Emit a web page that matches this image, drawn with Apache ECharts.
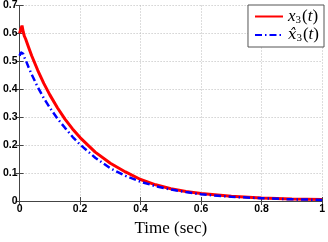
<!DOCTYPE html>
<html><head><meta charset="utf-8">
<script src="https://cdn.jsdelivr.net/npm/echarts@6/dist/echarts.min.js"></script>
<style>html,body{margin:0;padding:0;background:#fff}#c{width:328px;height:242px}</style>
</head><body><div id="c"></div>
<script>
const tValues = [0, 0.004, 0.008, 0.012, 0.016, 0.02, 0.03, 0.04, 0.06, 0.08, 0.1, 0.125, 0.15, 0.175, 0.2, 0.25, 0.3, 0.35, 0.4, 0.45, 0.5, 0.55, 0.6, 0.7, 0.8, 0.9, 1.0];
const x3 = [0.6, 0.615, 0.628, 0.605, 0.59, 0.58, 0.55, 0.52, 0.468, 0.421, 0.38, 0.334, 0.293, 0.258, 0.227, 0.175, 0.135, 0.104, 0.077, 0.058, 0.044, 0.034, 0.027, 0.017, 0.011, 0.007, 0.005];
const x3hat = [0.52, 0.532, 0.534, 0.527, 0.514, 0.505, 0.478, 0.453, 0.408, 0.368, 0.334, 0.295, 0.262, 0.23, 0.202, 0.155, 0.117, 0.09, 0.069, 0.053, 0.041, 0.032, 0.024, 0.015, 0.01, 0.006, 0.004];
const xTicks = [0, 0.2, 0.4, 0.6, 0.8, 1];
const yTicks = [0, 0.1, 0.2, 0.3, 0.4, 0.5, 0.6, 0.7];
const seriesNames = ['x3', 'x3hat'];
const xLabel = 'Time (sec)';

const chart = echarts.init(document.getElementById('c'), null, {renderer: 'canvas'});
const axisCol = '#444';
const lbl = {fontFamily: 'Liberation Sans', fontWeight: 'bold', fontSize: 10.5, color: '#000'};
const zip = (a, b) => a.map((v, i) => [v, b[i]]);
const rich = {
  it: {fontFamily: 'Liberation Serif', fontStyle: 'italic', fontSize: 17, color: '#000'},
  hat: {fontFamily: 'DejaVu Serif', fontStyle: 'italic', fontSize: 15, color: '#000'},
  n: {fontFamily: 'Liberation Serif', fontSize: 17, color: '#000'},
  sub: {fontFamily: 'Liberation Serif', fontSize: 11, color: '#000', padding: [7, 1, 0, 0]}
};
chart.setOption({
  animation: false,
  grid: {left: 16, top: 4, width: 310, height: 207, containLabel: false},
  xAxis: [{
    type: 'value', min: 0, max: 1, interval: 0.2,
    axisLine: {show: true, lineStyle: {color: axisCol, width: 1}},
    axisTick: {show: true, inside: true, length: 4, lineStyle: {color: axisCol}},
    axisLabel: Object.assign({margin: 3, formatter: v => String(+v.toFixed(1))}, lbl),
    splitLine: {show: true, lineStyle: {color: '#bbbbbb', type: [1, 2]}},
    name: xLabel, nameLocation: 'middle', nameGap: 19,
    nameTextStyle: {fontFamily: 'Liberation Serif', fontSize: 17, color: '#000'}
  }, {
    type: 'value', min: 0, max: 1, interval: 0.2, position: 'top',
    axisLine: {show: true, lineStyle: {color: axisCol, width: 1}},
    axisTick: {show: true, inside: true, length: 4, lineStyle: {color: axisCol}},
    axisLabel: {show: false}, splitLine: {show: false}
  }],
  yAxis: [{
    type: 'value', min: 0, max: 0.7, interval: 0.1,
    axisLine: {show: true, lineStyle: {color: axisCol, width: 1}},
    axisTick: {show: true, inside: true, length: 4, lineStyle: {color: axisCol}},
    axisLabel: Object.assign({margin: 2, formatter: v => String(+v.toFixed(1))}, lbl),
    splitLine: {show: true, lineStyle: {color: '#bbbbbb', type: [1, 2]}}
  }, {
    type: 'value', min: 0, max: 0.7, interval: 0.1, position: 'right',
    axisLine: {show: true, lineStyle: {color: axisCol, width: 1}},
    axisTick: {show: true, inside: true, length: 4, lineStyle: {color: axisCol}},
    axisLabel: {show: false}, splitLine: {show: false}
  }],
  legend: {
    right: 4, top: 5, orient: 'vertical', itemGap: 1, itemWidth: 28, itemHeight: 14,
    backgroundColor: '#fff', borderColor: '#555', borderWidth: 1, padding: [3, 5, 3, 6],
    data: seriesNames,
    itemStyle: {opacity: 0},
    formatter: n => n === 'x3' ? '{it|x}{sub|3}{n|(}{it|t}{n|)}' : '{hat|x\u0302}{sub|3}{n|(}{it|t}{n|)}',
    textStyle: {rich: rich, padding: [0, 0, 0, 0]}
  },
  series: [{
    name: 'x3', type: 'line', data: zip(tValues, x3), smooth: false, symbol: 'none',
    lineStyle: {color: '#ff0000', width: 3}, itemStyle: {color: '#ff0000'}, z: 3
  }, {
    name: 'x3hat', type: 'line', data: zip(tValues, x3hat), smooth: false, symbol: 'none',
    lineStyle: {color: '#0000ff', width: 2.5, type: [7, 3, 1.5, 3]}, itemStyle: {color: '#0000ff'}, z: 4
  }]
});
</script></body></html>
